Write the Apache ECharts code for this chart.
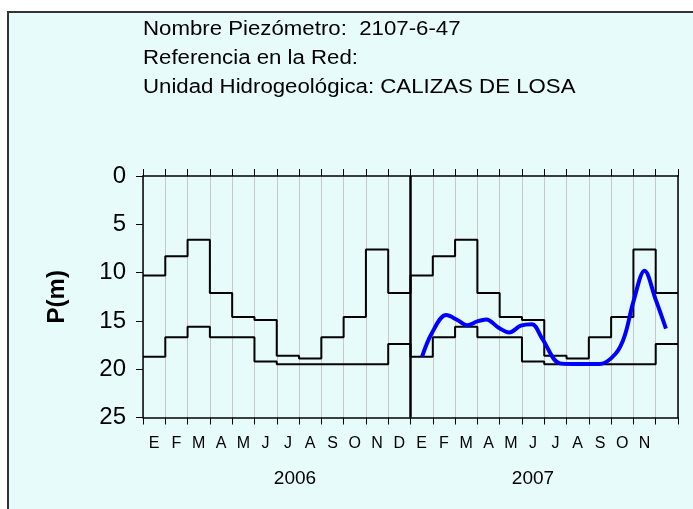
<!DOCTYPE html>
<html>
<head>
<meta charset="utf-8">
<script src="https://cdn.jsdelivr.net/npm/echarts@6/dist/echarts.min.js"></script>
<style>
  html, body { margin: 0; padding: 0; background: #fff; }
  #chart { width: 693px; height: 509px; }
</style>
</head>
<body>
<div id="chart"></div>
<script>
// month labels along the bottom (the 2007 December label is cut off in the original)
const monthLabels = ['E','F','M','A','M','J','J','A','S','O','N','D',
                     'E','F','M','A','M','J','J','A','S','O','N',''];
const yearLabels = ['2006', '2007'];

// depth bands per month (m), one value per month, 2006 then 2007
const upperLevels = [10.3, 8.3, 6.6, 12.1, 14.6, 14.9, 18.6, 18.9, 16.7, 14.6, 7.6, 12.1,
                     10.3, 8.3, 6.6, 12.1, 14.6, 14.9, 18.6, 18.9, 16.7, 14.6, 7.6, 12.1];
const lowerLevels = [18.7, 16.7, 15.6, 16.7, 16.7, 19.2, 19.5, 19.5, 19.5, 19.5, 19.5, 17.4,
                     18.7, 16.7, 15.6, 16.7, 16.7, 19.2, 19.5, 19.5, 19.5, 19.5, 19.5, 17.4];

// measured level 2007 (position in months from Jan 2006, depth in m)
const measuredMonths = [12.52, 12.95, 13.6, 14.1, 14.55, 15.0, 15.4, 15.95, 16.42, 16.95, 17.45,
                        17.9, 18.7, 19.3, 20.5, 21.2, 21.6, 22.0, 22.5, 23.0, 23.46];
const measuredDepths = [18.7, 16.3, 14.4, 14.9, 15.45, 15.05, 14.85, 15.7, 16.2, 15.5, 15.35,
                        16.8, 19.4, 19.46, 19.46, 18.4, 16.6, 13.0, 9.8, 12.8, 15.8];

const titleLines = [
  'Nombre Piezómetro:  2107-6-47',
  'Referencia en la Red:',
  'Unidad Hidrogeológica: CALIZAS DE LOSA'
];

const FONT = '"Liberation Sans", Arial, sans-serif';

function stepData(levels) {
  const pts = levels.map((v, i) => [i, v]);
  pts.push([levels.length, levels[levels.length - 1]]);
  return pts;
}

const chart = echarts.init(document.getElementById('chart'));

const frameLine = { onZero: false, lineStyle: { color: '#000', width: 1.5 } };

chart.setOption({
  backgroundColor: '#ffffff',
  animation: false,
  textStyle: { fontFamily: FONT, color: '#000' },
  graphic: [
    {
      type: 'rect', z: -10, silent: true,
      shape: { x: 8, y: 12, width: 720, height: 520 },
      style: { fill: '#e7fbfb', stroke: '#333333', lineWidth: 2 }
    }
  ].concat(titleLines.map((t, i) => ({
    type: 'text', x: 143, y: 30 + i * 28.7, scaleX: 1.14, silent: true,
    style: {
      text: t, font: 'normal 19.5px ' + FONT, fill: '#000',
      textVerticalAlign: 'middle', verticalAlign: 'middle'
    }
  }))),
  grid: [
    { left: 143, top: 176, width: 535, height: 241.5 },
    { left: 176, top: 176, width: 476, height: 241.5 }
  ],
  xAxis: [
    {
      type: 'value', min: 0, max: 24, interval: 1, position: 'bottom',
      axisLine: frameLine,
      axisTick: { inside: false, length: 7, lineStyle: { color: '#000', width: 1 } },
      axisLabel: { show: false },
      splitLine: { show: true, lineStyle: { color: '#c8c8c8', width: 1 } }
    },
    {
      type: 'value', min: 0, max: 24, interval: 1, position: 'top',
      axisLine: frameLine,
      axisTick: { inside: false, length: 7, lineStyle: { color: '#000', width: 1 } },
      axisLabel: { show: false },
      splitLine: { show: false }
    },
    {
      type: 'category', data: monthLabels, position: 'bottom', boundaryGap: true,
      axisLine: { show: false, onZero: false }, axisTick: { show: false },
      axisLabel: { fontSize: 16, color: '#000', margin: 18, interval: 0, fontFamily: FONT }
    },
    {
      type: 'category', data: yearLabels, gridIndex: 1, position: 'bottom',
      axisLine: { show: false, onZero: false }, axisTick: { show: false },
      axisLabel: { fontSize: 19, color: '#000', margin: 52, fontFamily: FONT }
    }
  ],
  yAxis: [
    {
      type: 'value', inverse: true, min: 0, max: 25, interval: 5, position: 'left',
      name: 'P(m)', nameLocation: 'middle', nameRotate: 90, nameGap: 74,
      nameTextStyle: { fontSize: 24, fontWeight: 'bold', color: '#000', fontFamily: FONT },
      axisLine: Object.assign({ show: true }, frameLine),
      axisTick: { show: true, inside: false, length: 7, lineStyle: { color: '#000' } },
      axisLabel: { fontSize: 24, color: '#000', margin: 17, fontFamily: FONT },
      splitLine: { show: false }
    },
    {
      type: 'value', inverse: true, min: 0, max: 25, interval: 5, position: 'right',
      axisLine: Object.assign({ show: true }, frameLine),
      axisTick: { show: false }, axisLabel: { show: false }, splitLine: { show: false }
    },
    { type: 'value', gridIndex: 1, show: false }
  ],
  series: [
    {
      name: 'Máximo', type: 'line', step: 'end', xAxisIndex: 0, yAxisIndex: 0,
      data: stepData(upperLevels), symbol: 'none',
      lineStyle: { color: '#000', width: 2 },
      markLine: {
        silent: true, symbol: 'none', label: { show: false },
        lineStyle: { color: '#000', width: 2.5, type: 'solid' },
        data: [{ xAxis: 12 }]
      }
    },
    {
      name: 'Mínimo', type: 'line', step: 'end', xAxisIndex: 0, yAxisIndex: 0,
      data: stepData(lowerLevels), symbol: 'none',
      lineStyle: { color: '#000', width: 2 }
    },
    {
      name: 'Nivel', type: 'line', smooth: 0.35, xAxisIndex: 0, yAxisIndex: 0,
      data: measuredMonths.map((m, i) => [m, measuredDepths[i]]), symbol: 'none',
      lineStyle: { color: '#0000ff', width: 4 }, z: 5
    }
  ]
});
</script>
</body>
</html>
